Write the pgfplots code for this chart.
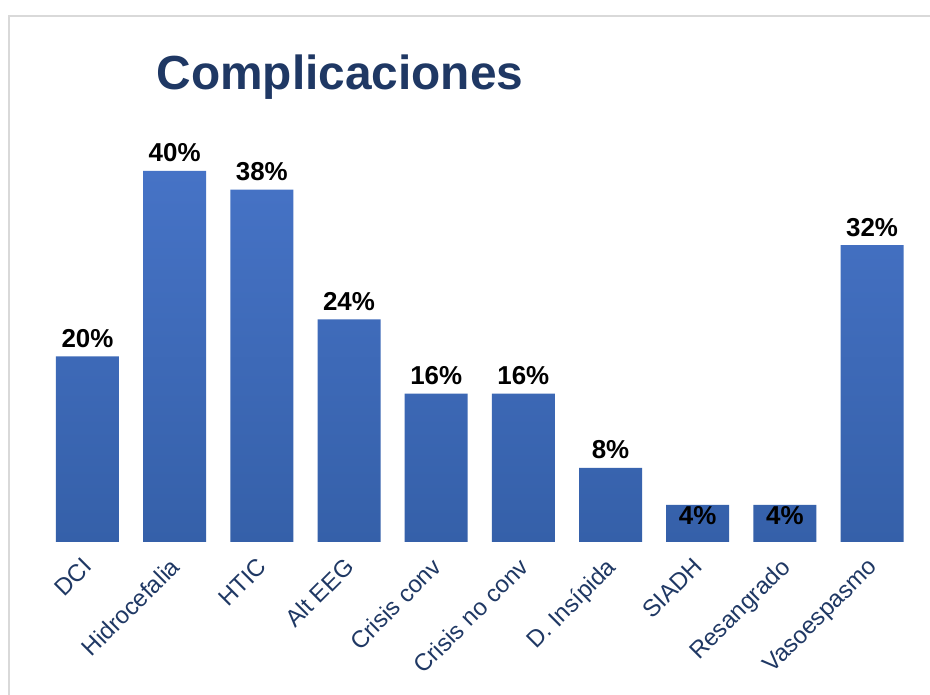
\documentclass[border=0pt]{standalone}
\usepackage{pgfplots}
\usepackage{pgfplotstable}
\pgfplotsset{compat=1.18}
\usepackage{fontspec}
\setmainfont{Liberation Sans}
\definecolor{navy}{HTML}{1F3864}
\definecolor{bartop}{HTML}{4673C6}
\definecolor{barbot}{HTML}{3560A9}
\definecolor{bggray}{HTML}{D9D9D9}
\definecolor{framec}{HTML}{D9D9D9}
\pgfplotstableread{
x y off
0 20 9
1 40 9
2 38 9
3 24 9
4 16 9
5 16 9
6 8 9
7 4 -20
8 4 -20
9 32 9
}\datatable
\begin{document}
\begin{tikzpicture}[x=1bp,y=1bp]
\useasboundingbox (0,0) rectangle (930,695);
\shade[top color=white, middle color=bggray, bottom color=white] (10,0) rectangle (930,678);
\draw[framec, line width=2bp] (9,0) -- (9,679) -- (930,679);
\node[font=\fontsize{48}{56}\selectfont\bfseries, text=navy] at (340,618) {Complicaciones};
\begin{axis}[
  at={(43.9bp,153bp)}, anchor=south west,
  scale only axis, width=871.7bp, height=417.4bp,
  xmin=-0.5, xmax=9.5, ymin=0, ymax=45,
  axis line style={draw=none},
  ytick=\empty,
  xtick={0,...,9},
  xticklabels={DCI,Hidrocefalia,HTIC,Alt EEG,Crisis conv,Crisis no conv,D. Insípida,SIADH,Resangrado,Vasoespasmo},
  major tick length=0pt,
  xticklabel style={rotate=45, anchor=north east, inner sep=0pt, xshift=-14bp, yshift=-6bp, font=\fontsize{24}{28}\selectfont, text=navy},
  ybar, bar width=63bp,
  point meta=y,
  visualization depends on={\thisrow{off} \as \labeloff},
  nodes near coords={\pgfmathprintnumber[assume math mode=true,fixed,precision=0]{\pgfplotspointmeta}\%},
  nodes near coords style={anchor=base, inner sep=0pt, yshift=\labeloff bp, font=\fontsize{26}{30}\selectfont\bfseries, text=black},
]
\addplot[draw=none, top color=bartop, bottom color=barbot] table[x=x, y=y] {\datatable};
\end{axis}
\end{tikzpicture}
\end{document}
